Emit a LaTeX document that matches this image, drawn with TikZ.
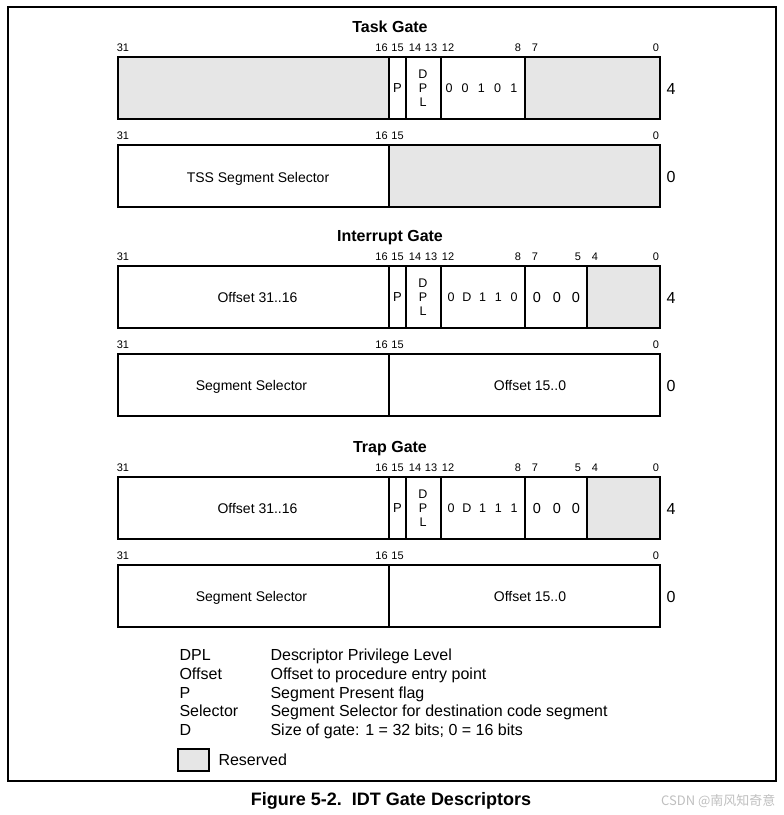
\documentclass[tikz,border=0pt]{standalone}
\usepackage{fontspec}
\setmainfont{Liberation Sans}
\newfontfamily\cjkfont{Noto Sans CJK SC}
\usepackage{tikz}
\usetikzlibrary{calc}
\tikzset{>=latex}
\definecolor{resgray}{RGB}{230,230,230}
\newcommand{\fsize}[1]{\fontsize{#1}{#1}\selectfont}

\begin{document}
\begin{tikzpicture}[x=1pt, y=-1pt, line width=1.1pt,
  lbl/.style={inner sep=0pt, font=\fsize{#1}, text height={0.716*#1pt}, text depth=0pt},
  boldlbl/.style={lbl=#1, font=\bfseries\fsize{#1}},
  bitno/.style={lbl=11},
  gatetitle/.style={boldlbl=16},
  fieldtxt/.style={lbl=14},
  bitval/.style={lbl=12.5},
  offsetno/.style={lbl=16},
  legendtxt/.style={lbl=16, anchor=west},
  reserved/.style={fill=resgray}]
\useasboundingbox (0,0) rectangle (784,815);
\draw (8,7) rectangle (776,781);

% what the three gates share
\foreach \y/\gname/\tag in {57/Task Gate/task, 266/Interrupt Gate/intr, 477/Trap Gate/trap}{
  \node[gatetitle] (\tag-title) at (390,\y-30) {\gname};
  \draw (118,\y) rectangle (660,\y+62);
  \draw (118,\y+88) rectangle (660,\y+150);
  \draw (389,\y+88) -- (389,\y+150);
  \foreach \x in {389,406,441,525}
    \draw (\x,\y) -- (\x,\y+62);
  \foreach \b/\x in {31/123, 16/381.5, 15/397.5, 0/656}{
    \node[bitno] (\tag-hi\b) at (\x,\y-9) {\b};
    \node[bitno] (\tag-lo\b) at (\x,\y+79) {\b};
  }
  \foreach \b/\x in {14/415, 13/431, 12/448, 8/518, 7/535}
    \node[bitno] (\tag-hi\b) at (\x,\y-9) {\b};
  \node[offsetno] (\tag-four) at (671,\y+32) {4};
  \node[offsetno] (\tag-zero) at (671,\y+120) {0};
  \node[lbl=13] (\tag-p) at (397.5,\y+31) {P};
  \foreach \c [count=\i] in {D,P,L}
    \node[bitval] (\tag-dpl\i) at (423,\y+3+14*\i) {\c};
}

% task gate
\draw[reserved] (118,57) rectangle (389,119);
\draw[reserved] (525,57) rectangle (660,119);
\draw[reserved] (389,145) rectangle (660,207);
\foreach \c [count=\i] in {0,0,1,0,1}
  \node[bitval] (task-type\i) at (449+16.2*\i-16.2,88) {\c};
\node[fieldtxt] (task-sel) at (258,177) {TSS Segment Selector};

% interrupt and trap gates
\foreach \y/\tag/\last in {266/intr/0, 477/trap/1}{
  \draw[reserved] (587,\y) rectangle (660,\y+62);
  \node[bitno] (\tag-hi5) at (578,\y-9) {5};
  \node[bitno] (\tag-hi4) at (595,\y-9) {4};
  \foreach \c [count=\i] in {0,D,1,1,\last}
    \node[bitval] (\tag-type\i) at (451+15.8*\i-15.8,\y+31) {\c};
  \foreach \i/\x in {1/537, 2/557, 3/576}
    \node[lbl=14.5] (\tag-zz\i) at (\x,\y+31) {0};
  \node[fieldtxt] (\tag-offhi) at (257.5,\y+31) {Offset 31..16};
  \node[fieldtxt] (\tag-sel) at (251.5,\y+119) {Segment Selector};
  \node[fieldtxt] (\tag-offlo) at (530,\y+119) {Offset 15..0};
}

% legend
\foreach \term/\desc [count=\i] in {DPL/Descriptor Privilege Level,
    Offset/Offset to procedure entry point, P/Segment Present flag,
    Selector/Segment Selector for destination code segment,
    D/Size of gate: 1 = 32 bits; 0 = 16 bits}{
  \node[legendtxt] (term\i) at (179,655+18.7*\i-18.7) {\term};
  \node[legendtxt] (desc\i) at (270,655+18.7*\i-18.7) {\desc};
}
\draw[reserved] (178,749) rectangle (209,771);
\node[legendtxt] (reserved) at (218,760) {Reserved};

\node[boldlbl=18] (caption) at (391,799) {Figure 5-2.\ \ IDT Gate Descriptors};
\node[lbl=13, font=\cjkfont\fsize{13}, text=gray!50, anchor=east] (mark) at (776,801) {CSDN @南风知奇意};
\end{tikzpicture}
\end{document}
